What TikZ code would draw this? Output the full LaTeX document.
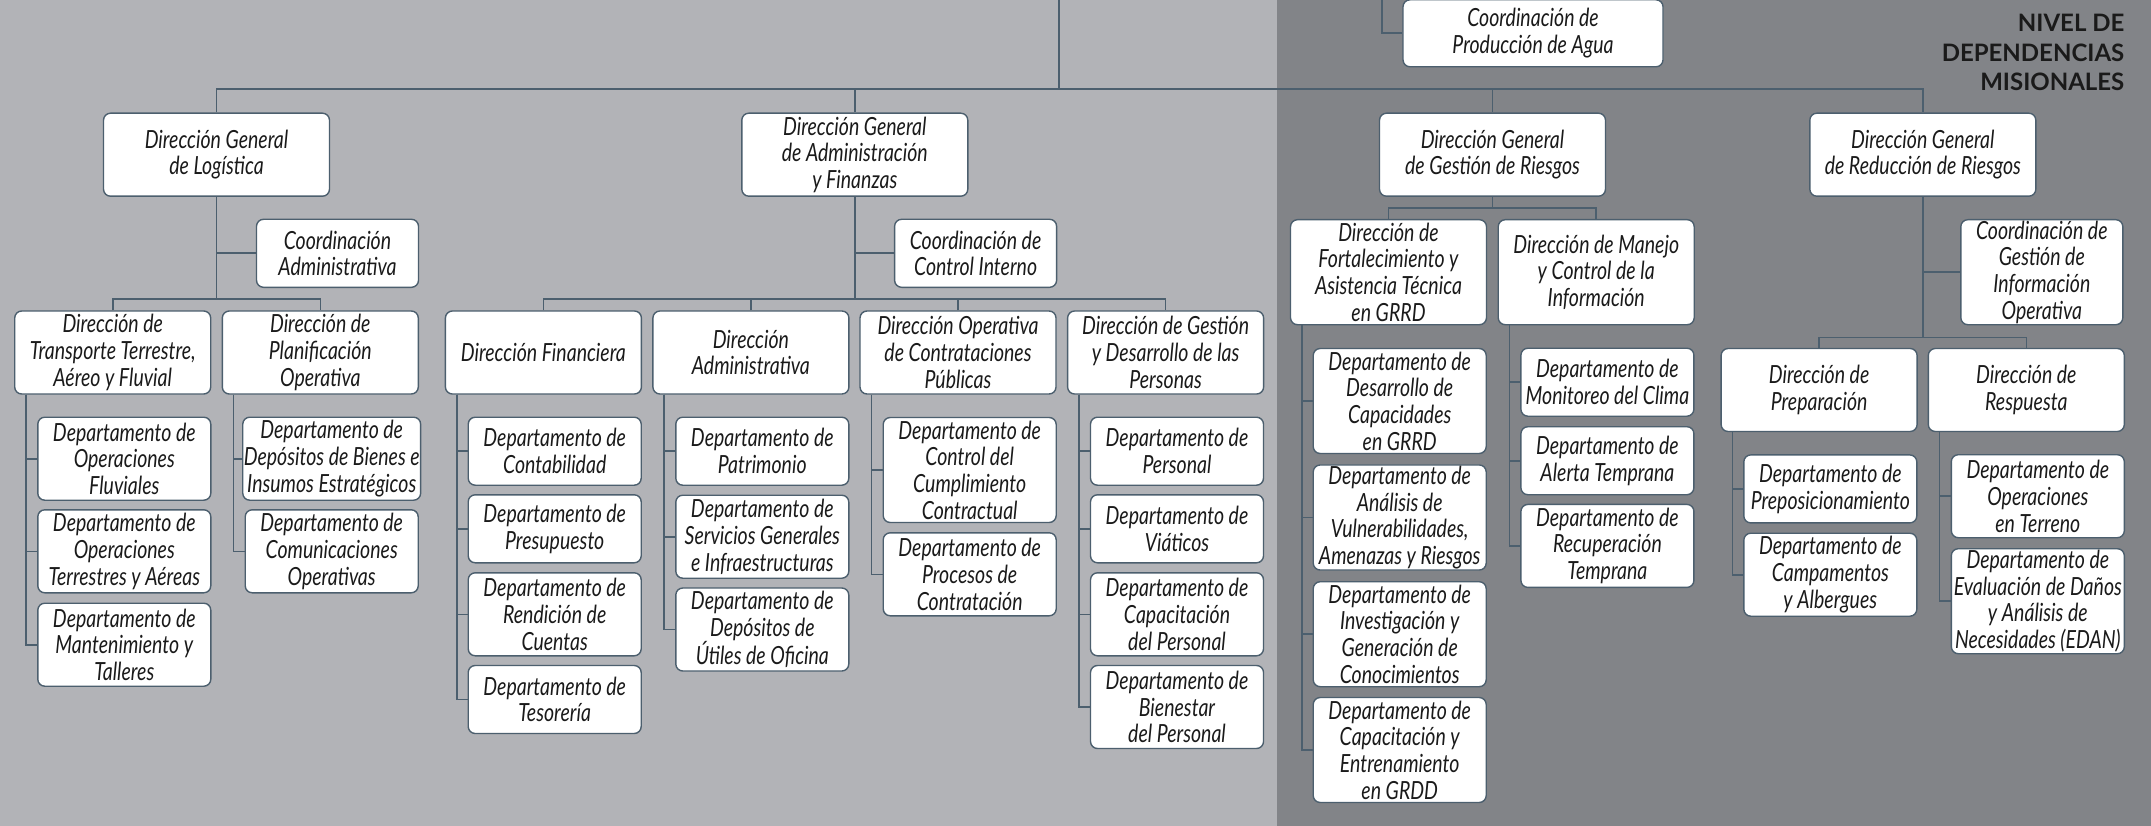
\documentclass[tikz,border=0pt]{standalone}
\usepackage{fontspec}
\setmainfont{Lato}[FakeStretch=0.78]
\newfontfamily\nivelfont{Lato}
\definecolor{bgLight}{HTML}{B2B3B7}
\definecolor{bgDark}{HTML}{828488}
\definecolor{lineCol}{HTML}{4C5F6E}
\definecolor{txtCol}{HTML}{1A1A1A}
\newcommand{\orgfont}{\fontsize{25}{26.7}\selectfont\itshape}
\tikzset{
	box/.style={draw=lineCol, line width=1.4pt, fill=white, rounded corners=7pt,
		align=center, inner sep=1pt, text=txtCol, font=\orgfont},
	wdg/.style={minimum width=226pt},
	wco/.style={minimum width=162pt},
	wdir/.style={minimum width=196pt},
	wdep/.style={minimum width=173pt},
	lTwo/.style={minimum height=68pt},
	lThree/.style={minimum height=83pt},
	lFour/.style={minimum height=105pt},
	link/.style={draw=lineCol, line width=1.6pt},
	nivel/.style={align=right, inner sep=0pt, text=txtCol,
		font=\nivelfont\bfseries\fontsize{24}{29.7}\selectfont}
}
\begin{document}
\begin{tikzpicture}[x=1pt,y=-1pt]
	\useasboundingbox (0,0) rectangle (2151,826);
	\fill[bgLight] (0,0) rectangle (1277.3,826);
	\fill[bgDark] (1277.3,0) rectangle (2151,826);
	
	\node[nivel, anchor=north east] (nivel) at (2124.5,14) {NIVEL DE\\DEPENDENCIAS\\MISIONALES};
	
	% direcciones generales
	\node[box, wdg, lThree] (dgLog) at (216.5,154.7) {Dirección General\\de Logística};
	\node[box, wdg, lThree] (dgAdm) at (854.8,154.7) {Dirección General\\de Administración\\y Finanzas};
	\node[box, wdg, lThree] (dgGes) at (1492.5,154.7) {Dirección General\\de Gestión de Riesgos};
	\node[box, wdg, lThree] (dgRed) at (1922.8,154.7) {Dirección General\\de Reducción de Riesgos};
	\node[box, minimum width=260pt, minimum height=67pt] (coAgua) at (1533,33.3) {Coordinación de\\Producción de Agua};
	
	% coordinaciones
	\node[box, wco, lTwo] (coAdm) at (337.5,253.3) {Coordinación\\Administrativa};
	\node[box, wco, lTwo] (coCtrl) at (975.6,253.3) {Coordinación de\\Control Interno};
	\node[box, wco, lFour] (coInfo) at (2041.8,272.2) {Coordinación de\\Gestión de\\Información\\Operativa};
	
	% direcciones
	\node[box, wdir, lThree] (dirTra) at (112.7,352.5) {Dirección de\\Transporte Terrestre,\\Aéreo y Fluvial};
	\node[box, wdir, lThree] (dirPla) at (320.3,352.5) {Dirección de\\Planificación\\Operativa};
	\node[box, wdir, lThree] (dirFin) at (543.4,352.5) {Dirección Financiera};
	\node[box, wdir, lThree] (dirAdm) at (750.9,352.5) {Dirección\\Administrativa};
	\node[box, wdir, lThree] (dirOpe) at (958,352.5) {Dirección Operativa\\de Contrataciones\\Públicas};
	\node[box, wdir, lThree] (dirPer) at (1165.6,352.5) {Dirección de Gestión\\y Desarrollo de las\\Personas};
	\node[box, wdir, lFour] (dirFor) at (1388.5,272.2) {Dirección de\\Fortalecimiento y\\Asistencia Técnica\\en GRRD};
	\node[box, wdir, lFour] (dirMan) at (1596.2,272.2) {Dirección de Manejo\\y Control de la\\Información};
	\node[box, wdir, lThree] (dirPre) at (1819.1,390) {Dirección de\\Preparación};
	\node[box, wdir, lThree] (dirRes) at (2026.3,390) {Dirección de\\Respuesta};
	
	% departamentos
	\node[box, wdep, lThree] (dOpF) at (124.3,458.7) {Departamento de\\Operaciones\\Fluviales};
	\node[box, wdep, lThree] (dOpT) at (124.3,551.3) {Departamento de\\Operaciones\\Terrestres y Aéreas};
	\node[box, wdep, lThree] (dMan) at (124.3,644.7) {Departamento de\\Mantenimiento y\\Talleres};
	\node[box, wdep, lThree] (dDep) at (331.7,458.7) {Departamento de\\Depósitos de Bienes e\\Insumos Estratégicos};
	\node[box, wdep, lThree] (dCom) at (331.7,551.3) {Departamento de\\Comunicaciones\\Operativas};
	
	\node[box, wdep, lTwo] (dCon) at (554.7,451.2) {Departamento de\\Contabilidad};
	\node[box, wdep, lTwo] (dPre) at (554.7,528.8) {Departamento de\\Presupuesto};
	\node[box, wdep, lThree] (dRen) at (554.7,614.3) {Departamento de\\Rendición de\\Cuentas};
	\node[box, wdep, lTwo] (dTes) at (554.7,699.5) {Departamento de\\Tesorería};
	\node[box, wdep, lTwo] (dPat) at (762.3,451.2) {Departamento de\\Patrimonio};
	\node[box, wdep, lThree] (dSer) at (762.3,536.7) {Departamento de\\Servicios Generales\\e Infraestructuras};
	\node[box, wdep, lThree] (dUti) at (762.3,629.5) {Departamento de\\Depósitos de\\Útiles de Oficina};
	\node[box, wdep, lFour] (dCum) at (969.7,470) {Departamento de\\Control del\\Cumplimiento\\Contractual};
	\node[box, wdep, lThree] (dPro) at (969.7,574.3) {Departamento de\\Procesos de\\Contratación};
	\node[box, wdep, lTwo] (dPer) at (1177,451.2) {Departamento de\\Personal};
	\node[box, wdep, lTwo] (dVia) at (1177,528.8) {Departamento de\\Viáticos};
	\node[box, wdep, lThree] (dCap) at (1177,614.3) {Departamento de\\Capacitación\\del Personal};
	\node[box, wdep, lThree] (dBie) at (1177,707) {Departamento de\\Bienestar\\del Personal};
	
	\node[box, wdep, lFour] (dDes) at (1399.7,401) {Departamento de\\Desarrollo de\\Capacidades\\en GRRD};
	\node[box, wdep, lFour] (dAna) at (1399.7,517.5) {Departamento de\\Análisis de\\Vulnerabilidades,\\Amenazas y Riesgos};
	\node[box, wdep, lFour] (dInv) at (1399.7,634.2) {Departamento de\\Investigación y\\Generación de\\Conocimientos};
	\node[box, wdep, lFour] (dEnt) at (1399.7,750) {Departamento de\\Capacitación y\\Entrenamiento\\en GRDD};
	\node[box, wdep, lTwo] (dMon) at (1607.4,382.2) {Departamento de\\Monitoreo del Clima};
	\node[box, wdep, lTwo] (dAle) at (1607.4,460.7) {Departamento de\\Alerta Temprana};
	\node[box, wdep, lThree] (dRec) at (1607.4,545.9) {Departamento de\\Recuperación\\Temprana};
	\node[box, wdep, lTwo] (dPos) at (1830.3,488.9) {Departamento de\\Preposicionamiento};
	\node[box, wdep, lThree] (dCam) at (1830.3,574.7) {Departamento de\\Campamentos\\y Albergues};
	\node[box, wdep, lThree] (dTer) at (2037.8,496.2) {Departamento de\\Operaciones\\en Terreno};
	\node[box, wdep, lFour] (dEda) at (2037.8,601.2) {Departamento de\\Evaluación de Daños\\y Análisis de\\Necesidades (EDAN)};
	
	% lineas superiores
	\coordinate (root) at (1058.8,0);
	\coordinate (busTop) at (1058.8,89.3);
	\coordinate (rootAgua) at (1381.7,0);
	\draw[link] (root) -- (busTop);
	\draw[link] (dgLog.north) |- (busTop) -| (dgRed.north);
	\draw[link] (dgAdm.north) -- (dgAdm.north |- busTop);
	\draw[link] (dgGes.north) -- (dgGes.north |- busTop);
	\draw[link] (rootAgua) |- (coAgua.west);
	
	% buses de direcciones
	\coordinate (busLog) at (216.5,299);
	\coordinate (busAdm) at (854.8,299);
	\coordinate (busGes) at (1492.5,208.3);
	\coordinate (busRed) at (1922.8,337.3);
	\draw[link] (dgLog.south) -- (busLog);
	\draw[link] (coAdm.west) -- (coAdm.west -| dgLog.south);
	\draw[link] (dirTra.north) |- (busLog) -| (dirPla.north);
	\draw[link] (dgAdm.south) -- (busAdm);
	\draw[link] (coCtrl.west) -- (coCtrl.west -| dgAdm.south);
	\draw[link] (dirFin.north) |- (busAdm) -| (dirPer.north);
	\draw[link] (dirAdm.north) -- (dirAdm.north |- busAdm);
	\draw[link] (dirOpe.north) -- (dirOpe.north |- busAdm);
	\draw[link] (dgGes.south) -- (busGes);
	\draw[link] (dirFor.north) |- (busGes) -| (dirMan.north);
	\draw[link] (dgRed.south) -- (busRed);
	\draw[link] (coInfo.west) -- (coInfo.west -| dgRed.south);
	\draw[link] (dirPre.north) |- (busRed) -| (dirRes.north);
	
	% departamentos
	\foreach \p/\l in {dirTra/{dOpF,dOpT,dMan}, dirPla/{dDep,dCom}, dirFin/{dCon,dPre,dRen,dTes},
		dirAdm/{dPat,dSer,dUti}, dirOpe/{dCum,dPro}, dirPer/{dPer,dVia,dCap,dBie},
		dirFor/{dDes,dAna,dInv,dEnt}, dirMan/{dMon,dAle,dRec}, dirPre/{dPos,dCam}, dirRes/{dTer,dEda}}
		\foreach \d in \l
			\draw[link] ([xshift=12pt]\p.south west) |- (\d.west);
\end{tikzpicture}
\end{document}
